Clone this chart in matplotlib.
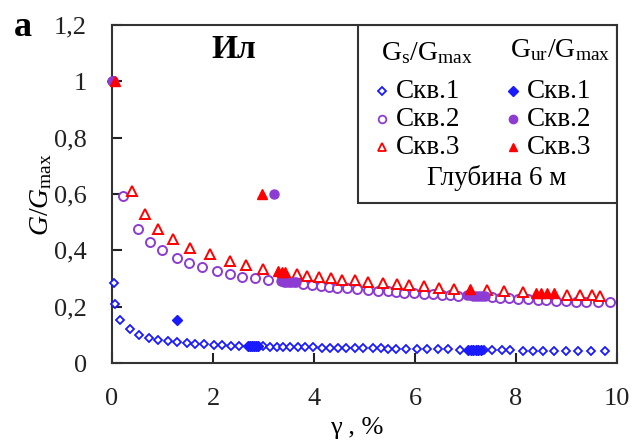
import matplotlib
matplotlib.use("Agg")
import matplotlib.pyplot as plt
from matplotlib.ticker import FuncFormatter

plt.rcParams['font.family'] = ['Liberation Serif', 'DejaVu Serif']
plt.rcParams['mathtext.fontset'] = 'custom'
plt.rcParams['mathtext.rm'] = 'Liberation Serif'
plt.rcParams['mathtext.it'] = 'Liberation Serif:italic'

# ---- data ----
gs1_x = [0.03, 0.05, 0.16, 0.35, 0.54, 0.73, 0.91, 1.11, 1.29, 1.48, 1.65, 1.83, 2.01, 2.17, 2.36, 2.51,
         2.99, 3.13, 3.26, 3.39, 3.53, 3.69, 3.83, 3.99, 4.16, 4.31, 4.48, 4.64, 4.81, 4.97, 5.16, 5.33,
         5.46, 5.63, 5.83, 6.03, 6.23, 6.46, 6.66, 6.89, 7.36, 7.53, 7.73, 7.89, 8.13, 8.33, 8.53, 8.76,
         8.99, 9.23, 9.49, 9.76]
gs1_y = [0.285, 0.21, 0.154, 0.120, 0.101, 0.090, 0.083, 0.079, 0.074, 0.070, 0.068, 0.066, 0.064, 0.063, 0.062, 0.061,
         0.059, 0.058, 0.058, 0.058, 0.057, 0.057, 0.056, 0.056, 0.055, 0.055, 0.054, 0.054, 0.053, 0.053, 0.052, 0.052,
         0.051, 0.051, 0.050, 0.050, 0.049, 0.048, 0.048, 0.047, 0.046, 0.046, 0.045, 0.045, 0.044, 0.044, 0.043, 0.043,
         0.042, 0.042, 0.041, 0.041]
gur1_x = [0.0, 1.28, 2.70, 2.74, 2.78, 2.82, 2.86, 2.90, 7.05, 7.10, 7.15, 7.20, 7.25, 7.30]
gur1_y = [1.0, 0.154, 0.060, 0.060, 0.060, 0.060, 0.059, 0.059, 0.047, 0.047, 0.047, 0.047, 0.046, 0.046]

gs2_x = [0.02, 0.21, 0.52, 0.76, 0.99, 1.28, 1.53, 1.79, 2.07, 2.33, 2.58, 2.84, 3.09,
         3.79, 3.96, 4.13, 4.29, 4.46, 4.66, 4.86, 5.06, 5.26, 5.46, 5.63, 5.79, 5.99, 6.17, 6.36,
         6.53, 6.69, 6.86, 7.53, 7.69, 7.86, 8.03, 8.23, 8.43, 8.59, 8.79, 8.99, 9.19, 9.39, 9.63, 9.86]
gs2_y = [1.0, 0.594, 0.475, 0.43, 0.40, 0.374, 0.355, 0.34, 0.328, 0.317, 0.307, 0.301, 0.293,
         0.281, 0.277, 0.274, 0.271, 0.268, 0.265, 0.262, 0.259, 0.257, 0.255, 0.252, 0.250, 0.248, 0.246, 0.244,
         0.242, 0.240, 0.238, 0.234, 0.232, 0.230, 0.228, 0.226, 0.224, 0.222, 0.220, 0.219, 0.218, 0.217, 0.216, 0.215]
gur2_x = [0.0, 3.21, 3.35, 3.40, 3.45, 3.50, 3.55, 3.60, 3.65, 7.03, 7.09, 7.15, 7.21, 7.27, 7.33, 7.39]
gur2_y = [1.0, 0.60, 0.290, 0.289, 0.289, 0.288, 0.288, 0.287, 0.287, 0.240, 0.240, 0.239, 0.239, 0.239, 0.238, 0.238]

gs3_x = [0.40, 0.66, 0.91, 1.21, 1.55, 1.94, 2.33, 2.66, 2.99, 3.66, 3.86, 4.09, 4.33, 4.56, 4.81, 5.07,
         5.36, 5.64, 5.89, 6.17, 6.48, 6.78, 7.43, 7.76, 8.13, 9.00, 9.26, 9.50, 9.67]
gs3_y = [0.61, 0.53, 0.476, 0.44, 0.41, 0.386, 0.361, 0.349, 0.334, 0.317, 0.31, 0.306, 0.301, 0.296, 0.293, 0.288,
         0.285, 0.282, 0.278, 0.274, 0.268, 0.264, 0.258, 0.254, 0.251, 0.243, 0.242, 0.240, 0.239]
gur3_x = [0.05, 2.97, 3.28, 3.36, 3.43, 7.09, 8.40, 8.50, 8.62, 8.75]
gur3_y = [1.0, 0.60, 0.325, 0.324, 0.322, 0.261, 0.248, 0.248, 0.247, 0.247]

x_ticks = [0, 2, 4, 6, 8, 10]
y_ticks = [0, 0.2, 0.4, 0.6, 0.8, 1.0, 1.2]

c1 = '#1a1aff'
c2 = '#8c3cd2'
c3 = '#ff0000'

AX_L, AX_R, AX_T, AX_B = 112, 617, 25, 363
fig = plt.figure(figsize=(6.35, 4.41), dpi=100)
ax = fig.add_axes([AX_L/635, 1-AX_B/441, (AX_R-AX_L)/635, (AX_B-AX_T)/441])

ax.plot(gs1_x, gs1_y, 'D', ms=4.2, mfc='white', mec=c1, mew=1.3, ls='none', clip_on=False, zorder=3)
ax.plot(gs2_x, gs2_y, 'o', ms=6.5, mfc='white', mec=c2, mew=1.4, ls='none', clip_on=False, zorder=3)
ax.plot(gs3_x, gs3_y, '^', ms=6.5, mfc='white', mec=c3, mew=1.4, ls='none', clip_on=False, zorder=3)
ax.plot(gur1_x, gur1_y, 'D', ms=5, color=c1, ls='none', clip_on=False, zorder=4)
ax.plot(gur2_x, gur2_y, 'o', ms=6.5, color=c2, ls='none', clip_on=False, zorder=4)
ax.plot(gur3_x, gur3_y, '^', ms=6.5, color=c3, ls='none', clip_on=False, zorder=5)

ax.set_xlim(0, 10)
ax.set_ylim(0, 1.2)
ax.set_xticks(x_ticks)
ax.set_yticks(y_ticks)
fmt = FuncFormatter(lambda v, p: ('%g' % v).replace('.', ','))
ax.xaxis.set_major_formatter(fmt)
ax.yaxis.set_major_formatter(fmt)
ax.tick_params(direction='in', length=7, width=1.5, labelsize=19, colors='#222222')
ax.tick_params(axis='y', pad=18)
ax.tick_params(axis='x', pad=18)
for s in ax.spines.values():
    s.set_linewidth(1.5)
    s.set_color('#333333')

ax.set_xlabel('γ , %', fontsize=19)
ax.xaxis.set_label_coords((357-AX_L)/(AX_R-AX_L), (AX_B-417)/(AX_B-AX_T))
ax.xaxis.label.set_va('top')
ax.set_ylabel(r'$\it{G}/\it{G}_{\rm max}$', fontsize=20, labelpad=0)

fig.text(23/635, 1-27/441, 'a', fontsize=26, fontweight='bold', va='center', ha='center')

def ax_xy(px, py):
    return (px-AX_L)/(AX_R-AX_L), (AX_B-py)/(AX_B-AX_T)

tx, ty = ax_xy(234, 49)
ax.text(tx, ty, 'Ил', transform=ax.transAxes, fontsize=24, fontweight='bold', ha='center', va='center')

# legend box
lx0, ly0 = ax_xy(358, 203)
ax.add_patch(plt.Rectangle((lx0, ly0), 1-lx0, 1-ly0, transform=ax.transAxes,
                           fill=False, ec='#333333', lw=1.5, zorder=6))

tx, ty = ax_xy(427, 53)
ax.text(tx, ty, r'$\rm G_s/G_{max}$', transform=ax.transAxes, fontsize=20, ha='center', va='center')
tx, ty = ax_xy(560, 50)
ax.text(tx, ty, r'$\rm G_{ur}/G_{max}$', transform=ax.transAxes, fontsize=20, ha='center', va='center')

rows = [(91, 'D', c1, 4.2, 5), (119, 'o', c2, 5.5, 6), (147, '^', c3, 5.5, 6)]
for i, (py, m, c, ms_o, ms_f) in enumerate(rows):
    mx, my = ax_xy(382, py)
    ax.plot([mx], [my], m, ms=ms_o, mfc='white', mec=c, mew=1.3, transform=ax.transAxes, clip_on=False, zorder=7)
    tx, ty = ax_xy(396, py)
    ax.text(tx, ty, 'Скв.%d' % (i+1), transform=ax.transAxes, fontsize=19.5, ha='left', va='center')
    mx, my = ax_xy(513, py)
    ax.plot([mx], [my], m, ms=ms_f, color=c, transform=ax.transAxes, clip_on=False, zorder=7)
    tx, ty = ax_xy(527, py)
    ax.text(tx, ty, 'Скв.%d' % (i+1), transform=ax.transAxes, fontsize=19.5, ha='left', va='center')

tx, ty = ax_xy(497, 178)
ax.text(tx, ty, 'Глубина 6 м', transform=ax.transAxes, fontsize=19.5, ha='center', va='center')

fig.savefig('out.png', dpi=100)
